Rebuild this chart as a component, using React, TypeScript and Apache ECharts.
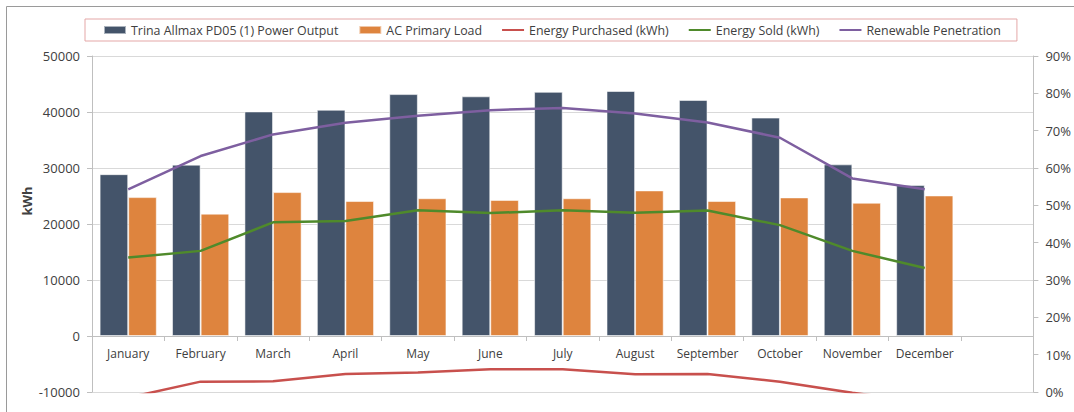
import React, { useEffect, useRef } from "react";
import * as echarts from "echarts";

const categories = [
  "January", "February", "March", "April", "May", "June",
  "July", "August", "September", "October", "November", "December", "",
];
const pvOutput = [28900, 30600, 40100, 40400, 43200, 42800, 43600, 43750, 42150, 39000, 30650, 26950];
const primaryLoad = [24800, 21850, 25700, 24100, 24600, 24300, 24600, 26000, 24100, 24750, 23800, 25100];
const energyPurchased = [-11000, -8150, -8100, -6800, -6500, -5950, -5950, -6850, -6800, -8150, -10150, -11800];
const energySold = [14000, 15200, 20300, 20550, 22450, 21950, 22450, 22000, 22400, 19800, 15200, 12150];
const renewablePenetration = [0.543, 0.632, 0.69, 0.721, 0.74, 0.755, 0.761, 0.746, 0.722, 0.681, 0.572, 0.543];
const leftTicks = { min: -10000, max: 50000, interval: 10000 };
const rightTicks = { min: 0, max: 0.9, interval: 0.1 };

const FONT = "Open Sans";
const TEXT = "#404040";
const LINE_ICON = "path://M0,0L0.01,0Z M0,3.1L22,3.1L22,5.1L0,5.1Z M21.99,8L22,8Z";

export default function App() {
  const ref = useRef<HTMLDivElement>(null);
  useEffect(() => {
    if (!ref.current) return;
    const chart = echarts.init(ref.current, undefined, { renderer: "svg" });
    chart.setOption({
      animation: false,
      backgroundColor: "#fff",
      textStyle: { fontFamily: FONT, color: TEXT },
      graphic: [
        {
          type: "rect",
          z: -10,
          shape: { x: 6.5, y: 6.5, width: 1200, height: 1000 },
          style: { fill: "none", stroke: "#9a9a9a", lineWidth: 1 },
          silent: true,
        },
        {
          type: "text",
          x: 27,
          y: 201,
          rotation: Math.PI / 2,
          silent: true,
          style: {
            text: "kWh",
            align: "center",
            verticalAlign: "middle",
            fontFamily: FONT,
            fontSize: 13,
            fontWeight: "bold",
            fill: TEXT,
          },
        },
      ],
      legend: {
        left: 85,
        top: 19,
        padding: [5, 16, 5, 18],
        borderColor: "#E4A7A7",
        borderWidth: 1,
        itemGap: 20,
        itemWidth: 22,
        itemHeight: 8,
        textStyle: { fontFamily: FONT, fontSize: 12.4, color: TEXT },
        data: [
          { name: "Trina Allmax PD05 (1) Power Output", icon: "rect" },
          { name: "AC Primary Load", icon: "rect" },
          { name: "Energy Purchased (kWh)", icon: LINE_ICON },
          { name: "Energy Sold (kWh)", icon: LINE_ICON },
          { name: "Renewable Penetration", icon: LINE_ICON },
        ],
      },
      grid: { left: 92, right: 39, top: 56, bottom: 20, containLabel: false },
      xAxis: {
        type: "category",
        data: categories,
        position: "bottom",
        offset: -56,
        axisLine: { onZero: false, lineStyle: { color: "#BFBFBF", width: 1 } },
        axisTick: { show: true, length: 5, lineStyle: { color: "#BFBFBF" } },
        axisLabel: { margin: 11, fontFamily: FONT, fontSize: 12, color: TEXT, interval: 0 },
      },
      yAxis: [
        {
          type: "value",
          ...leftTicks,
          axisLine: { show: true, lineStyle: { color: "#BFBFBF" } },
          axisTick: { show: true, length: 5, lineStyle: { color: "#BFBFBF" } },
          axisLabel: {
            fontFamily: FONT,
            fontSize: 13,
            color: TEXT,
            margin: 12,
            formatter: (v: number) => String(v),
          },
          splitLine: { show: true, lineStyle: { color: "#D9D9D9", width: 1 } },
        },
        {
          type: "value",
          ...rightTicks,
          position: "right",
          axisLine: { show: true, lineStyle: { color: "#BFBFBF" } },
          axisTick: { show: true, length: 5, lineStyle: { color: "#BFBFBF" } },
          axisLabel: {
            fontFamily: FONT,
            fontSize: 13,
            color: TEXT,
            margin: 12,
            formatter: (v: number) => Math.round(v * 100) + "%",
          },
          splitLine: { show: false },
        },
      ],
      series: [
        {
          name: "Trina Allmax PD05 (1) Power Output",
          type: "bar",
          data: pvOutput,
          barGap: "0%",
          barCategoryGap: "21%",
          itemStyle: { color: "#44546A", borderColor: "rgba(255,255,255,0.55)", borderWidth: 1 },
        },
        {
          name: "AC Primary Load",
          type: "bar",
          data: primaryLoad,
          itemStyle: { color: "#DE843E", borderColor: "rgba(255,255,255,0.55)", borderWidth: 1 },
        },
        {
          name: "Energy Purchased (kWh)",
          type: "line",
          data: energyPurchased,
          symbol: "none",
          clip: true,
          lineStyle: { color: "#C8504D", width: 2.5 },
          itemStyle: { color: "#C8504D" },
        },
        {
          name: "Energy Sold (kWh)",
          type: "line",
          data: energySold,
          symbol: "none",
          lineStyle: { color: "#4F8A2B", width: 2.5 },
          itemStyle: { color: "#4F8A2B" },
        },
        {
          name: "Renewable Penetration",
          type: "line",
          yAxisIndex: 1,
          data: renewablePenetration,
          symbol: "none",
          lineStyle: { color: "#7E5FA0", width: 2.5 },
          itemStyle: { color: "#7E5FA0" },
        },
      ],
    });
    return () => chart.dispose();
  }, []);
  return (
    <div
      ref={ref}
      style={{ position: "fixed", left: 0, top: 0, width: 1074, height: 412 }}
    />
  );
}
